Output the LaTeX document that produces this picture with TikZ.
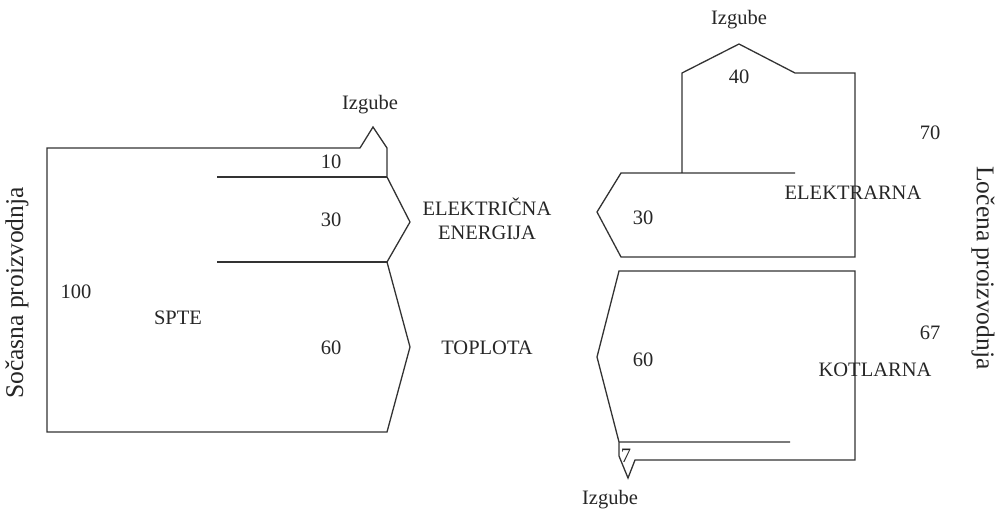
\documentclass[tikz,border=0pt]{standalone}
\usepackage{fontspec}
\setmainfont{Liberation Serif}
\begin{document}
\begin{tikzpicture}[x=1pt,y=-1pt,
  flow/.style={draw=black!80,line width=1.3pt,line join=miter},
  lbl/.style={inner sep=0pt,font=\fontsize{20.5}{24}\selectfont,text=black!85},
  side/.style={inner sep=0pt,font=\fontsize{25.5}{28}\selectfont,text=black!85}]
\useasboundingbox (0,0) rectangle (995,513);
% left SPTE shape
\draw[flow] (360,148) -- (47,148) -- (47,432) -- (387,432) -- (410,347) -- (387,262) -- (410,222) -- (387,177) -- (387,148) -- (373,127) -- (360,148);
\draw[flow] (217,177) -- (387,177);
\draw[flow] (217,262) -- (387,262);
% right top: elektrarna
\draw[flow] (795,173) -- (621,173) -- (597,212) -- (621,257) -- (855,257) -- (855,73) -- (795,73) -- (739,44) -- (682,73) -- (682,173);
% right bottom: kotlarna
\draw[flow] (790,442) -- (619,442) -- (597,357) -- (619,271) -- (855,271) -- (855,460) -- (635,460) -- (628,478) -- (619,456) -- (619,442);
% labels
\node[lbl] (izl) at (370,105) {Izgube};
\node[lbl] (n10) at (331,162) {10};
\node[lbl] (n30l) at (331,220) {30};
\node[lbl] (n100) at (76,292) {100};
\node[lbl] (spte) at (178,318) {SPTE};
\node[lbl] (n60l) at (331,348) {60};
\node[lbl,align=center] (ee) at (487,219) {ELEKTRIČNA\\ENERGIJA};
\node[lbl] (top) at (487,348) {TOPLOTA};
\node[lbl] (izt) at (739,20) {Izgube};
\node[lbl] (n40) at (739,77) {40};
\node[lbl] (n70) at (930,133) {70};
\node[lbl] (el) at (853,193) {ELEKTRARNA};
\node[lbl] (n30r) at (643,218) {30};
\node[lbl] (n60r) at (643,360) {60};
\node[lbl] (n67) at (930,333) {67};
\node[lbl] (kot) at (875,370) {KOTLARNA};
\node[lbl] (n7) at (626,456) {7};
\node[lbl] (izb) at (610,500) {Izgube};
\node[side,rotate=90] (soc) at (17,293) {Sočasna proizvodnja};
\node[side,rotate=-90] (loc) at (983,268) {Ločena proizvodnja};
\end{tikzpicture}
\end{document}
